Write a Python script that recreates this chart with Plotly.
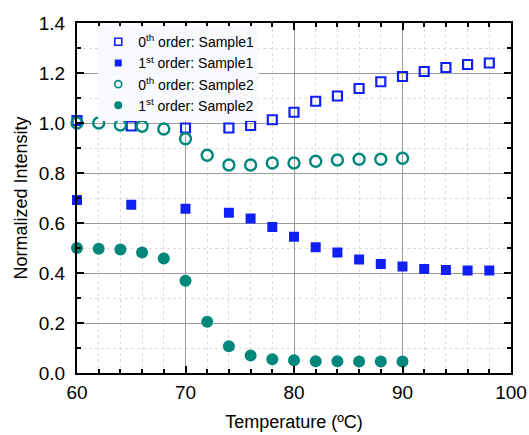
import plotly.graph_objects as go

temp_s1 = [60, 65, 70, 74, 76, 78, 80, 82, 84, 86, 88, 90, 92, 94, 96, 98]
s1_0th = [1.01, 0.988, 0.98, 0.98, 0.99, 1.013, 1.043, 1.087, 1.108, 1.138, 1.165, 1.186, 1.206, 1.222, 1.234, 1.24]
s1_1st = [0.692, 0.673, 0.657, 0.641, 0.618, 0.584, 0.545, 0.503, 0.482, 0.454, 0.436, 0.426, 0.416, 0.412, 0.41, 0.41]

temp_s2 = [60, 62, 64, 66, 68, 70, 72, 74, 76, 78, 80, 82, 84, 86, 88, 90]
s2_0th = [1.0, 1.0, 0.992, 0.987, 0.976, 0.937, 0.871, 0.832, 0.832, 0.84, 0.84, 0.847, 0.852, 0.855, 0.855, 0.859]
s2_1st = [0.5, 0.497, 0.494, 0.482, 0.458, 0.369, 0.205, 0.107, 0.07, 0.055, 0.051, 0.047, 0.047, 0.046, 0.046, 0.046]

names = ["0<sup>th</sup> order: Sample1", "1<sup>st</sup> order: Sample1",
         "0<sup>th</sup> order: Sample2", "1<sup>st</sup> order: Sample2"]

BLUE = "#1020F5"
TEAL = "#00877C"

styles = [
    dict(symbol="square-open", color=BLUE, size=9, line=dict(width=2.2, color=BLUE)),
    dict(symbol="square", color=BLUE, size=10),
    dict(symbol="circle-open", color=TEAL, size=11, line=dict(width=2.4, color=TEAL)),
    dict(symbol="circle", color=TEAL, size=12),
]
legend_styles = [
    dict(symbol="square-open", color=BLUE, size=7, line=dict(width=1.6, color=BLUE)),
    dict(symbol="square", color=BLUE, size=7),
    dict(symbol="circle-open", color=TEAL, size=7, line=dict(width=1.6, color=TEAL)),
    dict(symbol="circle", color=TEAL, size=8),
]
xs = [temp_s1, temp_s1, temp_s2, temp_s2]
ys = [s1_0th, s1_1st, s2_0th, s2_1st]

fig = go.Figure()
for x, y, st in zip(xs, ys, styles):
    fig.add_trace(go.Scatter(x=x, y=y, mode="markers", marker=st, showlegend=False, cliponaxis=False))
for n, st in zip(names, legend_styles):
    fig.add_trace(go.Scatter(x=[None], y=[None], mode="markers", marker=st, name=n))

FONT = "Arial, Liberation Sans, sans-serif"
axis_common = dict(
    showline=True, linecolor="black", linewidth=2, mirror="allticks",
    ticks="inside", ticklen=7, tickwidth=2, tickcolor="black",
    showgrid=True, gridcolor="#9a9a9a", gridwidth=1,
    zeroline=False, automargin=False,
    tickfont=dict(family=FONT, size=19, color="black"),
)
fig.update_xaxes(
    range=[60, 100], dtick=10, tick0=60,
    minor=dict(dtick=2, ticks="inside", ticklen=4, tickwidth=1.5, tickcolor="black",
               showgrid=True, gridcolor="#dcdcdc", griddash="dot", gridwidth=1),
    title=dict(text="Temperature (ºC)", font=dict(family=FONT, size=18, color="black"), standoff=14),
    ticklabelstandoff=1,
    **axis_common,
)
fig.update_yaxes(
    range=[0, 1.4], dtick=0.2, tick0=0, tickformat=".1f",
    minor=dict(dtick=0.1, ticks="inside", ticklen=4, tickwidth=1.5, tickcolor="black",
               showgrid=True, gridcolor="#dcdcdc", griddash="dot", gridwidth=1),
    title=dict(text="Normalized Intensity", font=dict(family=FONT, size=18, color="black"), standoff=6),
    ticklabelstandoff=6,
    **axis_common,
)
fig.update_layout(
    width=529, height=435,
    margin=dict(l=77, r=18, t=23, b=62),
    paper_bgcolor="white", plot_bgcolor="white",
    font=dict(family=FONT, color="black"),
    legend=dict(x=0.049, y=0.991, xanchor="left", yanchor="top",
                bgcolor="rgba(248,250,253,0.95)", borderwidth=0,
                font=dict(family=FONT, size=14, color="black"),
                itemwidth=30, tracegroupgap=0),
)
fig.write_html("out.html", config={"displayModeBar": False},
               post_script="document.body.style.margin='0';document.body.style.overflow='hidden';")
